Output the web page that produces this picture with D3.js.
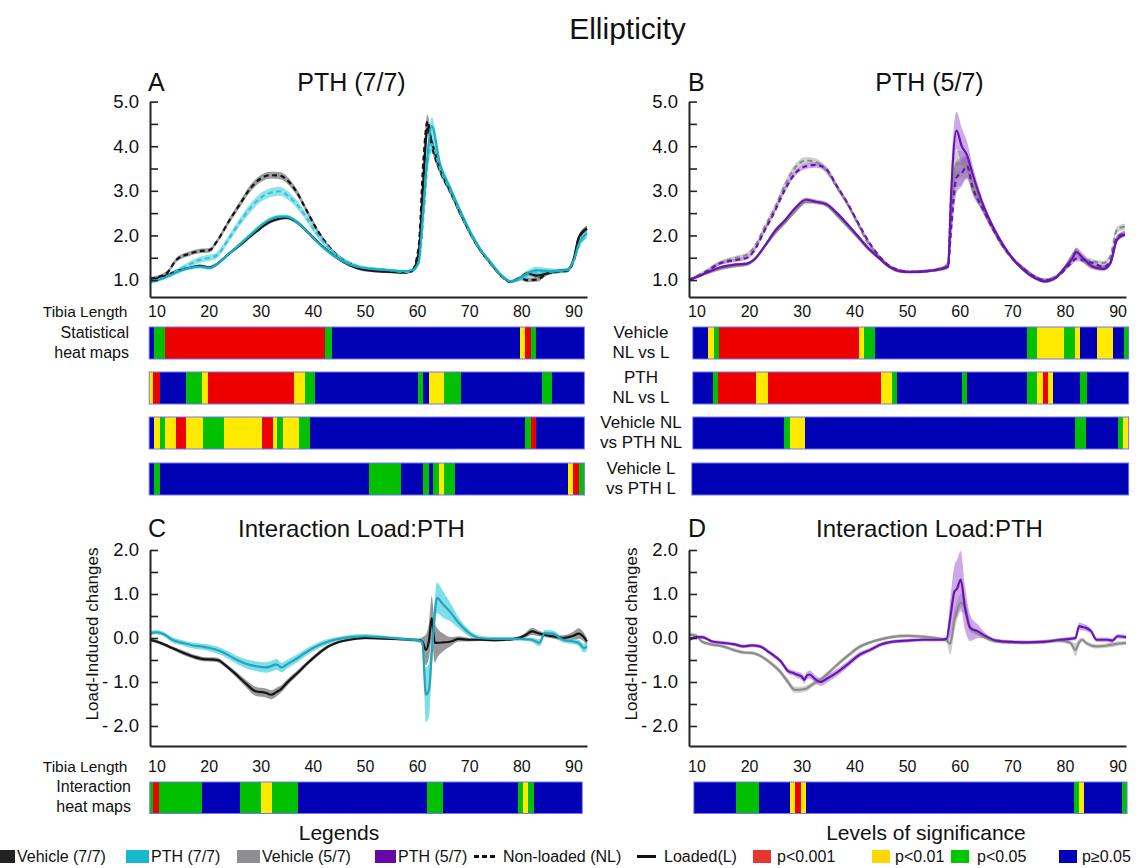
<!DOCTYPE html>
<html><head><meta charset="utf-8">
<script src="https://cdn.jsdelivr.net/npm/d3@7"></script>
<style>
body{margin:0;background:#fff;}
svg{display:block;font-family:"Liberation Sans",Arial,Helvetica,sans-serif;}
</style></head><body>
<svg id="c" width="1141" height="868"></svg>
<script>
// ---------------- DATA ----------------
// Panel A : PTH (7/7)  (tibia length %, ellipticity)
const aX = [8.75,11.9,13.8,16.3,18.3,20.2,21.5,24,26,27.9,29.8,31.7,33.7,34.9,36.9,38.8,40.7,42.6,44.6,47.1,49.7,52.2,54.8,57.4,59,60.3,61.2,62,62.8,64.4,66.4,68.3,70.2,72.1,74.1,76,77.9,79.8,81.1,83,85,86.9,88.8,90.1,91,92.6];
const aVehNL = [1.03,1.15,1.45,1.59,1.65,1.67,1.85,2.34,2.70,3.04,3.26,3.35,3.34,3.26,2.97,2.56,2.15,1.82,1.56,1.37,1.26,1.22,1.20,1.17,1.21,1.74,3.67,4.56,4.04,3.45,2.97,2.48,2.04,1.67,1.37,1.11,0.96,1.04,1.00,1.01,1.15,1.19,1.21,1.45,1.93,2.15];
const aVehL = [1.00,1.10,1.20,1.27,1.32,1.28,1.35,1.60,1.78,1.97,2.15,2.30,2.38,2.40,2.30,2.10,1.88,1.68,1.50,1.33,1.23,1.20,1.18,1.17,1.20,1.60,3.20,4.40,4.10,3.50,3.00,2.50,2.05,1.68,1.38,1.12,0.97,1.05,1.15,1.10,1.15,1.20,1.22,1.50,1.95,2.15];
const aPthNL = [0.98,1.08,1.20,1.35,1.45,1.50,1.55,1.95,2.30,2.60,2.83,2.95,2.99,2.92,2.70,2.40,2.05,1.78,1.55,1.38,1.28,1.25,1.22,1.18,1.20,1.40,2.40,3.60,4.05,3.50,3.00,2.50,2.05,1.68,1.38,1.12,0.97,1.02,1.10,1.18,1.18,1.20,1.22,1.45,1.75,2.00];
const aPthL = [0.95,1.07,1.17,1.27,1.30,1.27,1.35,1.60,1.80,2.00,2.20,2.35,2.42,2.42,2.30,2.10,1.87,1.67,1.50,1.35,1.27,1.24,1.22,1.20,1.22,1.40,2.60,3.80,4.45,3.60,3.05,2.55,2.08,1.70,1.40,1.13,0.97,1.05,1.15,1.22,1.20,1.20,1.23,1.45,1.80,2.05];
const aVehNLse = [0.04,0.04,0.05,0.05,0.05,0.05,0.05,0.06,0.07,0.08,0.08,0.08,0.08,0.08,0.07,0.06,0.05,0.04,0.04,0.03,0.03,0.03,0.03,0.03,0.03,0.08,0.15,0.15,0.12,0.08,0.06,0.05,0.04,0.04,0.03,0.03,0.03,0.04,0.05,0.05,0.04,0.04,0.04,0.05,0.06,0.06];
const aVehLse = [0.03,0.03,0.03,0.03,0.03,0.03,0.03,0.03,0.04,0.04,0.04,0.04,0.04,0.04,0.04,0.04,0.03,0.03,0.03,0.03,0.03,0.03,0.03,0.03,0.03,0.06,0.12,0.12,0.10,0.06,0.05,0.04,0.04,0.03,0.03,0.03,0.03,0.04,0.05,0.05,0.04,0.04,0.04,0.05,0.06,0.06];
const aPthNLse = [0.04,0.04,0.05,0.06,0.07,0.07,0.07,0.08,0.09,0.10,0.10,0.10,0.10,0.10,0.09,0.08,0.07,0.06,0.05,0.04,0.04,0.03,0.03,0.03,0.03,0.06,0.15,0.20,0.20,0.12,0.08,0.06,0.05,0.04,0.03,0.03,0.03,0.04,0.06,0.07,0.06,0.05,0.04,0.05,0.06,0.06];
const aPthLse = [0.04,0.04,0.04,0.04,0.04,0.04,0.04,0.04,0.05,0.05,0.05,0.05,0.05,0.05,0.05,0.04,0.04,0.04,0.03,0.03,0.03,0.03,0.03,0.03,0.03,0.06,0.15,0.20,0.20,0.12,0.08,0.06,0.05,0.04,0.03,0.03,0.03,0.04,0.06,0.08,0.07,0.05,0.04,0.05,0.06,0.06];

// Panel B : PTH (5/7)
const bX = [8.58,11.1,14.4,17.6,19.6,20.9,22.9,24.9,26.9,28.8,30.8,32.8,34.7,36.7,38.7,40.7,42.6,44.6,46.6,48.6,50.5,53.8,57.1,57.8,58.4,59.4,60.4,61.4,62.4,64.4,66.3,68.3,70.3,72.2,74.2,76.2,78.2,80.1,81.5,82.1,83.4,85.3,87.3,88.6,89.9,91.4];
const bVehNL = [1.0,1.15,1.38,1.5,1.57,1.72,2.17,2.62,3.15,3.53,3.68,3.64,3.45,3.08,2.7,2.25,1.83,1.53,1.3,1.2,1.19,1.21,1.3,1.38,2.9,3.38,3.45,3.53,3.08,2.62,2.17,1.75,1.45,1.26,1.09,1.0,1.08,1.26,1.57,1.64,1.49,1.42,1.38,1.53,2.13,2.2];
const bVehL = [1.0,1.12,1.25,1.32,1.35,1.45,1.75,2.05,2.3,2.55,2.75,2.75,2.68,2.45,2.2,1.95,1.7,1.5,1.3,1.2,1.18,1.2,1.25,1.3,2.5,3.6,3.6,3.5,3.2,2.6,2.15,1.75,1.45,1.22,1.05,0.97,1.05,1.3,1.55,1.62,1.45,1.3,1.28,1.38,1.95,2.05];
const bPthNL = [1.0,1.13,1.37,1.45,1.5,1.65,2.1,2.55,3.05,3.4,3.55,3.58,3.48,3.1,2.72,2.28,1.88,1.55,1.32,1.22,1.18,1.2,1.28,1.35,2.2,3.3,3.4,3.55,3.1,2.6,2.15,1.75,1.45,1.25,1.08,1.0,1.05,1.25,1.42,1.48,1.45,1.38,1.3,1.4,1.95,2.05];
const bPthL = [1.0,1.12,1.28,1.35,1.37,1.45,1.75,2.1,2.35,2.62,2.8,2.75,2.7,2.5,2.25,1.98,1.72,1.5,1.3,1.2,1.18,1.2,1.27,1.3,3.0,4.35,4.0,3.8,3.4,2.7,2.2,1.78,1.45,1.22,1.05,0.97,1.05,1.3,1.5,1.63,1.5,1.3,1.25,1.37,1.9,2.02];
const bVehNLse = [0.04,0.04,0.05,0.05,0.05,0.05,0.06,0.07,0.08,0.08,0.08,0.08,0.07,0.06,0.06,0.05,0.05,0.04,0.04,0.04,0.03,0.03,0.03,0.04,0.2,0.3,0.3,0.25,0.15,0.1,0.08,0.06,0.05,0.04,0.04,0.04,0.04,0.05,0.07,0.08,0.06,0.05,0.05,0.05,0.07,0.07];
const bVehLse = [0.03,0.03,0.04,0.04,0.04,0.04,0.04,0.05,0.05,0.05,0.05,0.05,0.05,0.05,0.04,0.04,0.04,0.04,0.03,0.03,0.03,0.03,0.03,0.04,0.25,0.3,0.3,0.25,0.15,0.1,0.07,0.05,0.05,0.04,0.04,0.04,0.04,0.05,0.07,0.08,0.06,0.05,0.05,0.05,0.06,0.06];
const bPthNLse = [0.03,0.03,0.04,0.04,0.04,0.04,0.05,0.05,0.06,0.06,0.06,0.06,0.06,0.06,0.05,0.05,0.05,0.04,0.04,0.03,0.03,0.03,0.03,0.04,0.35,0.35,0.3,0.25,0.15,0.08,0.06,0.05,0.04,0.04,0.03,0.03,0.03,0.04,0.06,0.06,0.05,0.04,0.04,0.04,0.05,0.05];
const bPthLse = [0.03,0.03,0.03,0.03,0.03,0.03,0.04,0.04,0.04,0.04,0.05,0.05,0.05,0.04,0.04,0.04,0.04,0.03,0.03,0.03,0.03,0.03,0.03,0.04,0.4,0.42,0.4,0.3,0.2,0.1,0.06,0.05,0.04,0.04,0.03,0.03,0.03,0.04,0.08,0.1,0.1,0.06,0.05,0.05,0.05,0.05];

// Panel C : Interaction Load:PTH (7/7)
const cX = [8.75,10,11.5,13,15,17,19,21,22,23,25,27,29,31,32,33,34,35,37,39,41,43,45,47,50,53,56,59,60.5,61,61.7,62.3,62.8,63.4,63.8,65,66.5,68,70,72,75,78,80,81,82,83.5,84.5,86,88,90,91,92,92.6];
const cVeh = [-0.04,-0.08,-0.15,-0.23,-0.33,-0.42,-0.48,-0.49,-0.51,-0.60,-0.80,-1.02,-1.21,-1.25,-1.29,-1.23,-1.15,-1.02,-0.80,-0.57,-0.36,-0.19,-0.09,-0.04,0.00,-0.01,-0.02,-0.04,-0.05,-0.08,-0.27,-0.04,0.45,-0.11,-0.11,-0.10,-0.08,-0.02,-0.04,-0.04,-0.05,-0.03,0.02,0.08,0.15,0.10,0.07,0.04,0.00,0.05,0.10,0.02,-0.08];
const cPth = [0.11,0.13,0.08,-0.04,-0.11,-0.17,-0.20,-0.25,-0.29,-0.34,-0.47,-0.58,-0.64,-0.67,-0.64,-0.60,-0.67,-0.60,-0.46,-0.30,-0.17,-0.08,-0.02,0.02,0.04,0.02,-0.01,-0.04,-0.06,-0.10,-1.29,-1.17,-0.35,0.55,0.91,0.76,0.57,0.34,0.11,0.00,-0.02,-0.02,-0.02,-0.03,-0.04,-0.11,0.11,0.10,-0.04,-0.08,-0.11,-0.23,-0.19];
const cVehSe = [0.04,0.04,0.04,0.04,0.05,0.05,0.05,0.05,0.05,0.05,0.06,0.08,0.1,0.1,0.1,0.1,0.08,0.07,0.06,0.05,0.05,0.04,0.03,0.03,0.03,0.03,0.03,0.03,0.04,0.1,0.35,0.4,0.5,0.45,0.35,0.2,0.1,0.06,0.04,0.03,0.03,0.03,0.04,0.06,0.08,0.06,0.05,0.05,0.06,0.1,0.12,0.1,0.08];
const cPthSe = [0.05,0.05,0.05,0.06,0.06,0.07,0.07,0.08,0.08,0.08,0.09,0.1,0.11,0.12,0.12,0.12,0.11,0.1,0.09,0.08,0.07,0.06,0.05,0.05,0.05,0.04,0.04,0.04,0.05,0.1,0.62,0.6,0.45,0.35,0.35,0.3,0.2,0.12,0.08,0.05,0.04,0.04,0.04,0.04,0.05,0.08,0.08,0.07,0.06,0.06,0.07,0.1,0.1];

// Panel D : Interaction Load:PTH (5/7)
const dX = [8.6,10,11,13,15,17,19,20.5,22,24,26,27.5,28.5,29,30,30.5,31,31.5,32.5,33.5,35,37,39,41,43,45,47,50,53,56,57.5,58.2,59,59.5,60.2,61,62,63.5,65,67,70,73,76,79,81,82,82.7,83.3,84,85,86,88,89,90,91.6];
const dVeh = [0.08,0.05,-0.08,-0.15,-0.19,-0.27,-0.33,-0.34,-0.40,-0.56,-0.78,-1.02,-1.17,-1.18,-1.17,-1.16,-1.14,-1.10,-1.02,-0.95,-0.80,-0.58,-0.38,-0.20,-0.10,-0.03,0.02,0.05,0.03,-0.01,-0.05,-0.13,0.40,0.62,0.80,0.72,0.23,0.10,0.00,-0.08,-0.10,-0.10,-0.08,-0.06,-0.11,-0.27,-0.10,-0.04,-0.11,-0.17,-0.19,-0.17,-0.15,-0.13,-0.11];
const dPth = [-0.04,0.02,0.02,-0.08,-0.11,-0.14,-0.19,-0.17,-0.19,-0.34,-0.53,-0.76,-0.80,-0.83,-0.88,-0.95,-0.85,-0.83,-0.93,-1.00,-0.91,-0.76,-0.57,-0.38,-0.27,-0.15,-0.09,-0.06,-0.04,-0.04,-0.02,0.45,1.05,1.12,1.33,0.70,0.23,0.15,0.04,-0.06,-0.09,-0.10,-0.09,-0.04,-0.02,0.00,0.27,0.25,0.23,0.15,-0.04,-0.04,-0.06,0.04,0.02];
const dVehSe = [0.05,0.04,0.04,0.04,0.04,0.04,0.04,0.04,0.04,0.05,0.06,0.07,0.07,0.07,0.07,0.07,0.07,0.06,0.06,0.06,0.05,0.05,0.05,0.05,0.04,0.04,0.04,0.04,0.04,0.04,0.05,0.25,0.25,0.22,0.2,0.18,0.1,0.05,0.04,0.04,0.04,0.04,0.04,0.04,0.05,0.15,0.08,0.05,0.05,0.05,0.05,0.05,0.06,0.05,0.05];
const dPthSe = [0.04,0.04,0.04,0.04,0.04,0.04,0.04,0.04,0.04,0.05,0.05,0.06,0.06,0.07,0.08,0.08,0.08,0.09,0.09,0.09,0.09,0.08,0.07,0.06,0.05,0.05,0.04,0.04,0.04,0.04,0.05,0.4,0.6,0.65,0.65,0.5,0.3,0.15,0.06,0.04,0.04,0.04,0.04,0.04,0.04,0.05,0.08,0.08,0.07,0.06,0.05,0.05,0.05,0.05,0.05];

// Heat maps: segment breaks (tibia length %) and significance level per segment
// levels: 0 = p<0.001, 1 = p<0.01, 2 = p<0.05, 3 = p>=0.05
const heatA1Breaks = [8.6,9.6,11.7,42.4,43.6,79.7,80.7,81.8,82.8,92.1];
const heatA1Levels = [3,2,0,2,3,1,0,2,3];
const heatA2Breaks = [8.6,9.4,10.6,15.6,18.7,19.8,36.3,38.4,40.5,60.1,61.1,62.2,65.2,68.4,83.9,85.9,92.1];
const heatA2Levels = [1,0,3,2,1,0,1,2,3,2,3,1,2,3,2,3];
const heatA3Breaks = [8.6,9.6,10.6,11.6,13.7,15.7,18.9,23.0,30.2,32.3,33.2,34.3,37.4,39.4,80.7,81.8,82.8,92.1];
const heatA3Levels = [3,1,2,1,0,1,2,1,0,1,2,1,2,3,2,0,3];
const heatA4Breaks = [8.6,9.6,10.6,50.8,56.9,61.1,62.2,63.1,64.2,65.2,67.3,89.0,90.0,91.0,92.1];
const heatA4Levels = [3,2,3,2,3,2,3,2,1,2,3,1,0,2];
const heatB1Breaks = [9.3,12.2,13.3,14.3,40.9,41.9,44.0,72.8,74.7,79.9,82.0,82.9,86.1,89.1,91.2,92.1];
const heatB1Levels = [3,1,2,0,1,2,3,2,1,2,1,3,1,3,2];
const heatB2Breaks = [9.3,13.1,14.1,21.4,23.5,45.0,47.1,48.1,60.4,61.4,72.8,74.7,75.9,76.7,77.8,82.9,84.1,92.1];
const heatB2Levels = [3,2,0,1,0,1,2,3,2,3,2,1,0,1,3,2,3];
const heatB3Breaks = [9.3,26.6,27.7,30.7,82.0,84.0,90.0,91.1,92.1];
const heatB3Levels = [3,2,1,3,2,3,2,1];
const heatB4Breaks = [9.1,92.1];
const heatB4Levels = [3];
const heatCBreaks = [8.7,9.4,10.5,18.7,26.0,30.1,32.2,37.2,61.9,64.9,79.3,80.3,81.3,82.4,91.7];
const heatCLevels = [2,0,2,3,2,1,2,3,2,3,2,1,2,3];
const heatDBreaks = [9.5,17.5,21.8,27.8,28.8,29.8,30.8,81.7,82.6,83.7,90.8,91.8];
const heatDLevels = [3,2,3,1,0,1,3,2,1,3,2];

const xTicks = [10,20,30,40,50,60,70,80,90];
const yTicksTop = [1,1.5,2,2.5,3,3.5,4,4.5,5];
const yTicksInt = [-2,-1.5,-1,-0.5,0,0.5,1,1.5,2];
const heatLabelsB = [["Vehicle","NL vs L"],["PTH","NL vs L"],["Vehicle NL","vs PTH NL"],["Vehicle L","vs PTH L"]];
const groupLabels = ["Vehicle (7/7)","PTH (7/7)","Vehicle (5/7)","PTH (5/7)"];
const lineLabels = ["Non-loaded (NL)","Loaded(L)"];
const sigLabels = ["p<0.001","p<0.01","p<0.05","p\u22650.05"];

// ---------------- STYLE / LAYOUT ----------------
const heatColors = ["#ec0000","#ffea00","#00c000","#0000b4"];
const sigSwatch = ["#e8352f","#ffd600","#00c600","#0000bc"];
const groupSwatch = ["#222222","#17b9cc","#8f8f91","#6409a8"];
const FONT = '"Liberation Sans", Arial, Helvetica, sans-serif';

const svg = d3.select("#c");

const xL = d3.scaleLinear().domain([8.75, 92.6]).range([150, 587]);
const xR = d3.scaleLinear().domain([8.58, 91.6]).range([689, 1126]);
const yTop = d3.scaleLinear().domain([0.62, 5]).range([297, 101.6]);
const yBot = d3.scaleLinear().domain([-2.455, 2]).range([746, 550]);

function txt(x, y, s, size, anchor) {
  return svg.append("text").attr("x", x).attr("y", y).text(s)
    .attr("font-size", size).attr("text-anchor", anchor || "start").attr("fill", "#111");
}

function yAxis(x0, y, ticks, fmt) {
  const ax = d3.axisLeft(y).tickValues(ticks).tickFormat(fmt)
    .tickSizeInner(-8).tickSizeOuter(0).tickPadding(11);
  const g = svg.append("g").attr("transform", `translate(${x0},0)`).call(ax);
  g.select(".domain").attr("stroke", "#222").attr("stroke-width", 2);
  g.selectAll(".tick line").attr("stroke", "#222").attr("stroke-width", 1.6);
  g.selectAll(".tick text").attr("font-size", 18.5).attr("font-family", FONT).attr("fill", "#111");
}
function xAxis(y0, x, pad) {
  const ax = d3.axisBottom(x).tickValues(xTicks).tickFormat(d3.format("d"))
    .tickSize(0).tickPadding(pad);
  const g = svg.append("g").attr("transform", `translate(0,${y0})`).call(ax);
  g.select(".domain").attr("stroke", "#222").attr("stroke-width", 2);
  g.selectAll(".tick text").attr("font-size", 16).attr("font-family", FONT).attr("fill", "#111");
}
function drawSeries(x, y, xs, list) {
  const g = svg.append("g");
  list.forEach(s => {
    const pts = xs.map((v, i) => ({x: v, m: s.m[i], se: s.se[i]}));
    const area = d3.area().x(d => x(d.x)).y0(d => y(d.m - d.se)).y1(d => y(d.m + d.se)).curve(d3.curveMonotoneX);
    g.append("path").datum(pts).attr("d", area).attr("fill", s.band).attr("fill-opacity", s.bandOp);
  });
  list.forEach(s => {
    const pts = xs.map((v, i) => ({x: v, m: s.m[i]}));
    const line = d3.line().x(d => x(d.x)).y(d => y(d.m)).curve(d3.curveMonotoneX);
    g.append("path").datum(pts).attr("d", line).attr("fill", "none")
      .attr("stroke", s.color).attr("stroke-width", s.w || 2.2)
      .attr("stroke-dasharray", s.dash ? "5,3.5" : null).attr("stroke-linejoin", "round");
  });
}
function heat(x, breaks, levels, y0, h) {
  const segs = levels.map((l, i) => ({a: breaks[i], b: breaks[i + 1], l}));
  const g = svg.append("g");
  g.selectAll("rect.seg").data(segs).join("rect").attr("class", "seg")
    .attr("x", d => x(d.a)).attr("width", d => x(d.b) - x(d.a))
    .attr("y", y0).attr("height", h).attr("fill", d => heatColors[d.l])
    .attr("shape-rendering", "crispEdges");
  g.append("rect").attr("x", x(breaks[0])).attr("y", y0)
    .attr("width", x(breaks[breaks.length - 1]) - x(breaks[0])).attr("height", h)
    .attr("fill", "none").attr("stroke", "#7474ff").attr("stroke-width", 1);
}

svg.attr("font-family", FONT);

// Main title
txt(627.5, 39, "Ellipticity", 30, "middle");

// ---- Panel A ----
txt(148, 91, "A", 25);
txt(351.5, 91, "PTH (7/7)", 25, "middle");
drawSeries(xL, yTop, aX, [
  {m: aVehNL, se: aVehNLse, color: "#151515", band: "#4a4a4a", bandOp: 0.55, dash: true},
  {m: aVehL, se: aVehLse, color: "#151515", band: "#4a4a4a", bandOp: 0.55},
  {m: aPthNL, se: aPthNLse, color: "#45bfcf", band: "#3fd3e3", bandOp: 0.6, dash: true},
  {m: aPthL, se: aPthLse, color: "#17afc2", band: "#3fd3e3", bandOp: 0.6}
]);
yAxis(150, yTop, yTicksTop, d => Number.isInteger(d) ? d.toFixed(1) : "");
xAxis(297, xL, 9);
txt(127.5, 317, "Tibia Length", 15.5, "end");
txt(129, 338, "Statistical", 16, "end");
txt(129, 358, "heat maps", 16, "end");
const rowsTop = [327, 372, 417, 463];
heat(xL, heatA1Breaks, heatA1Levels, rowsTop[0], 32);
heat(xL, heatA2Breaks, heatA2Levels, rowsTop[1], 32);
heat(xL, heatA3Breaks, heatA3Levels, rowsTop[2], 32);
heat(xL, heatA4Breaks, heatA4Levels, rowsTop[3], 32);

// ---- Panel B ----
txt(688, 91, "B", 25);
txt(929.5, 91, "PTH (5/7)", 25, "middle");
drawSeries(xR, yTop, bX, [
  {m: bVehNL, se: bVehNLse, color: "#8a8a8a", band: "#a0a0a0", bandOp: 0.5, dash: true},
  {m: bVehL, se: bVehLse, color: "#8a8a8a", band: "#a0a0a0", bandOp: 0.5},
  {m: bPthNL, se: bPthNLse, color: "#6a14b4", band: "#9a55cc", bandOp: 0.5, dash: true},
  {m: bPthL, se: bPthLse, color: "#6a14b4", band: "#9a55cc", bandOp: 0.5}
]);
yAxis(689, yTop, yTicksTop, d => Number.isInteger(d) ? d.toFixed(1) : "");
xAxis(297, xR, 9);
heat(xR, heatB1Breaks, heatB1Levels, rowsTop[0], 32);
heat(xR, heatB2Breaks, heatB2Levels, rowsTop[1], 32);
heat(xR, heatB3Breaks, heatB3Levels, rowsTop[2], 32);
heat(xR, heatB4Breaks, heatB4Levels, rowsTop[3], 32);
heatLabelsB.forEach((pair, i) => {
  txt(641, rowsTop[i] + 11, pair[0], 17, "middle");
  txt(641, rowsTop[i] + 31, pair[1], 17, "middle");
});

// ---- Panel C ----
const fmtInt = d => Number.isInteger(d) ? (d < 0 ? "- " + (-d).toFixed(1) : d.toFixed(1)) : "";
txt(148, 537, "C", 25);
txt(351.5, 537, "Interaction Load:PTH", 24, "middle");
drawSeries(xL, yBot, cX, [
  {m: cVeh, se: cVehSe, color: "#151515", band: "#555555", bandOp: 0.6},
  {m: cPth, se: cPthSe, color: "#2aa3b4", band: "#4fd5e5", bandOp: 0.75}
]);
yAxis(150, yBot, yTicksInt, fmtInt);
xAxis(746, xL, 15);
svg.append("text").attr("transform", "translate(98,634) rotate(-90)")
  .attr("text-anchor", "middle").attr("font-size", 17).attr("fill", "#111").text("Load-Induced changes");
txt(127.5, 772, "Tibia Length", 15.5, "end");
txt(131, 792, "Interaction", 16, "end");
txt(131, 812, "heat maps", 16, "end");
heat(xL, heatCBreaks, heatCLevels, 782, 31.5);

// ---- Panel D ----
txt(688, 537, "D", 25);
txt(929.5, 537, "Interaction Load:PTH", 24, "middle");
drawSeries(xR, yBot, dX, [
  {m: dVeh, se: dVehSe, color: "#8c8c8c", band: "#b0b0b0", bandOp: 0.6},
  {m: dPth, se: dPthSe, color: "#6a14b4", band: "#a463d4", bandOp: 0.55}
]);
yAxis(689, yBot, yTicksInt, fmtInt);
xAxis(746, xR, 15);
svg.append("text").attr("transform", "translate(637,634) rotate(-90)")
  .attr("text-anchor", "middle").attr("font-size", 17).attr("fill", "#111").text("Load-Induced changes");
heat(xR, heatDBreaks, heatDLevels, 782, 31.5);

// ---- Legends ----
txt(339, 840, "Legends", 21, "middle");
txt(926, 840, "Levels of significance", 21, "middle");
const LY = 862, LS = 16;
const groupPos = [[0, 15, 17], [126, 23, 151], [237, 23, 262], [375, 21, 398]];
groupLabels.forEach((lab, i) => {
  const p = groupPos[i];
  svg.append("rect").attr("x", p[0]).attr("y", 850).attr("width", p[1]).attr("height", 13).attr("fill", groupSwatch[i]);
  txt(p[2], LY, lab, LS);
});
svg.append("line").attr("x1", 474).attr("x2", 497).attr("y1", 856.5).attr("y2", 856.5)
  .attr("stroke", "#111").attr("stroke-width", 3).attr("stroke-dasharray", "5,3");
txt(503, LY, lineLabels[0], LS);
svg.append("line").attr("x1", 637).attr("x2", 656).attr("y1", 856.5).attr("y2", 856.5)
  .attr("stroke", "#111").attr("stroke-width", 3);
txt(664, LY, lineLabels[1], LS);
const sigPos = [[753, 777], [872, 895], [951, 977], [1059, 1082]];
sigLabels.forEach((lab, i) => {
  svg.append("rect").attr("x", sigPos[i][0]).attr("y", 850).attr("width", 18).attr("height", 13).attr("fill", sigSwatch[i]);
  txt(sigPos[i][1], LY, lab, LS);
});
</script></body></html>
